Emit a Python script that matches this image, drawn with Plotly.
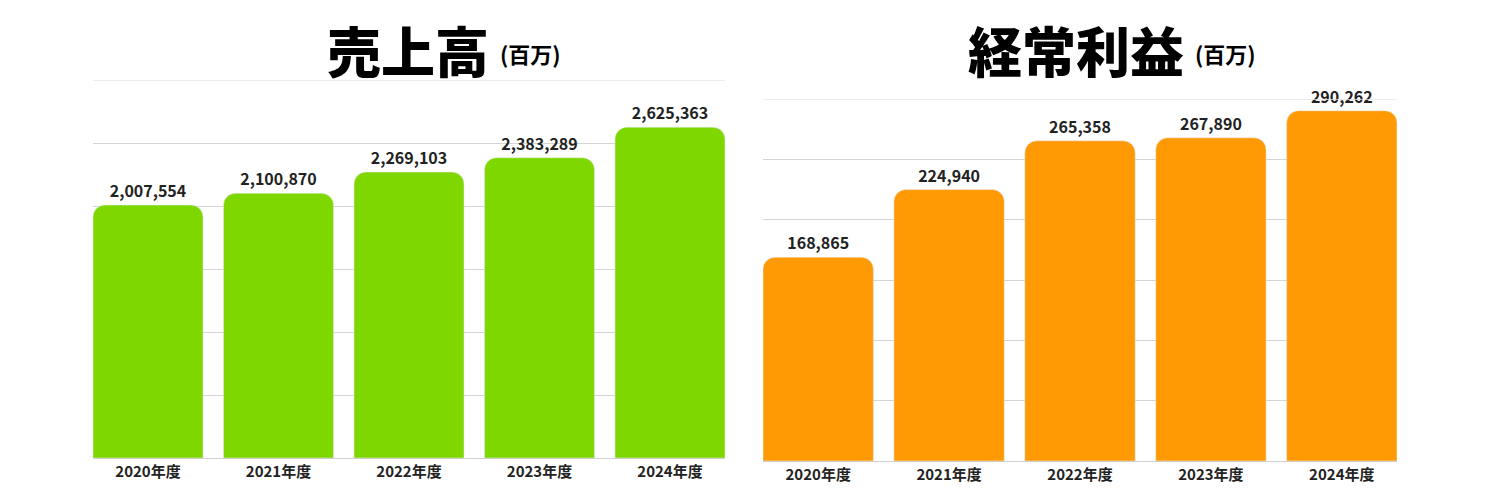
import plotly.graph_objects as go

years = ["2020年度", "2021年度", "2022年度", "2023年度", "2024年度"]
sales = [2007554, 2100870, 2269103, 2383289, 2625363]
profit = [168865, 224940, 265358, 267890, 290262]

FONT = "Noto Sans CJK JP"
GREEN = "#7ED800"
ORANGE = "#FF9A05"

# the page puts the figure 8px in from the top-left corner of the window
W, H, OFF = 1492, 492, 8


def px_x(sx):
    return (sx - OFF) / W


def px_y(sy):
    return 1 - (sy - OFF) / H


fig = go.Figure()

fig.add_trace(go.Bar(
    x=years, y=sales, xaxis="x", yaxis="y",
    marker=dict(color=GREEN, cornerradius=12),
    texttemplate="%{y:,}", textposition="outside", cliponaxis=False,
    textfont=dict(family=FONT, size=16, color="#222", weight="bold"),
    hoverinfo="skip",
))
fig.add_trace(go.Bar(
    x=years, y=profit, xaxis="x2", yaxis="y2",
    marker=dict(color=ORANGE, cornerradius=12),
    texttemplate="%{y:,}", textposition="outside", cliponaxis=False,
    textfont=dict(family=FONT, size=16, color="#222", weight="bold"),
    hoverinfo="skip",
))

xcommon = dict(
    range=[-0.4215, 4.4215], showgrid=False, showline=True, linecolor="#d0d0d0",
    ticks="", tickfont=dict(family=FONT, size=15, color="#222", weight="bold"),
    fixedrange=True,
)
ycommon = dict(
    showticklabels=False, showgrid=True, gridcolor="#d4d4d4", gridwidth=1,
    zeroline=False, ticks="", fixedrange=True,
)

fig.update_layout(
    width=W, height=H,
    margin=dict(l=0, r=0, t=0, b=0),
    paper_bgcolor="white", plot_bgcolor="white",
    showlegend=False, bargap=0.157,
    font=dict(family=FONT),
    xaxis=dict(domain=[px_x(93), px_x(725)], anchor="y", **xcommon),
    yaxis=dict(domain=[px_y(458), px_y(80)], anchor="x", range=[0, 3000000], dtick=500000, **ycommon),
    xaxis2=dict(domain=[px_x(763), px_x(1397)], anchor="y2", **xcommon),
    yaxis2=dict(domain=[px_y(461), px_y(99)], anchor="x2", range=[0, 300000], dtick=50000, **ycommon),
)

# lighter top grid line
for xr, yr, top in [("x domain", "y", 3000000), ("x2 domain", "y2", 300000)]:
    fig.add_shape(type="line", xref=xr, yref=yr, x0=0, x1=1, y0=top, y1=top,
                  line=dict(color="#e6e6e6", width=1.5))

titles = [("売上高", 408, 3), ("経常利益", 1076, 4)]
for text, cx, n in titles:
    fig.add_annotation(
        text=text, x=px_x(cx), y=1, xref="paper", yref="paper",
        xanchor="center", yanchor="top", showarrow=False,
        font=dict(family=FONT, size=54, color="#000", weight=900),
    )
    fig.add_annotation(
        text="(百万)", x=px_x(cx + n * 27 + 9), y=px_y(53), xref="paper", yref="paper",
        xanchor="left", yanchor="middle", showarrow=False,
        font=dict(family=FONT, size=22, color="#000", weight="bold"),
    )

fig.write_html("out.html")
